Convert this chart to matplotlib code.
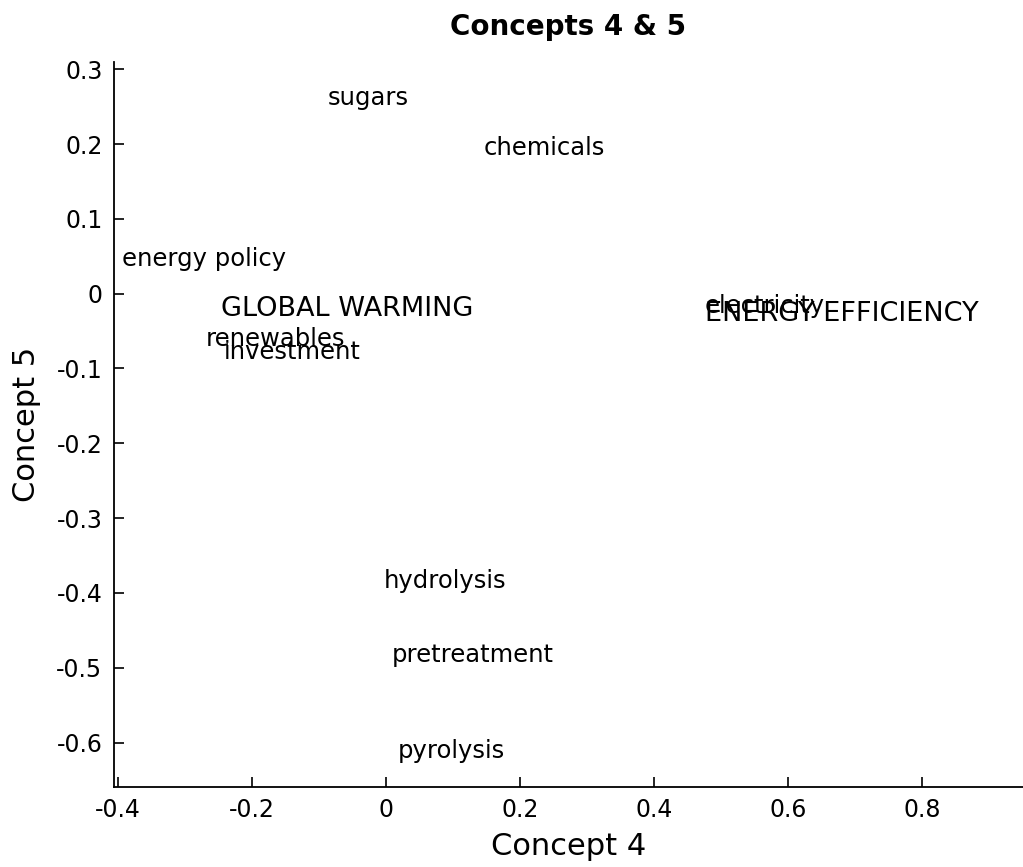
import matplotlib
matplotlib.use('Agg')
import matplotlib.pyplot as plt
from matplotlib.ticker import FuncFormatter

# term positions on concepts 4 and 5
terms = ['sugars', 'chemicals', 'energy policy', 'GLOBAL WARMING',
         'renewables', 'investment', 'electricity', 'ENERGY EFFICIENCY',
         'hydrolysis', 'pretreatment', 'pyrolysis']
concept4 = [-0.087, 0.146, -0.393, -0.245, -0.269, -0.242,
            0.476, 0.476, -0.003, 0.009, 0.018]
concept5 = [0.262, 0.195, 0.047, -0.021, -0.061, -0.078,
            -0.017, -0.027, -0.384, -0.483, -0.611]

xticks = [-0.4, -0.2, 0, 0.2, 0.4, 0.6, 0.8]
yticks = [-0.6, -0.5, -0.4, -0.3, -0.2, -0.1, 0, 0.1, 0.2, 0.3]

fig = plt.figure(figsize=(10.23, 8.67), dpi=100)
ax = fig.add_axes([0.111, 0.0926, 0.889, 0.8362])

for t, x, y in zip(terms, concept4, concept5):
    # upper case terms come out a bit larger in the original
    fs = 19.5 if t.isupper() else 17.5
    ax.text(x, y, t, ha='left', va='center', fontsize=fs)

ax.set_xlim(-0.406, 0.951)
ax.set_ylim(-0.659, 0.31)
ax.set_xticks(xticks)
ax.set_yticks(yticks)
fmt = FuncFormatter(lambda v, p: '%g' % round(v, 2))
ax.xaxis.set_major_formatter(fmt)
ax.yaxis.set_major_formatter(fmt)

ax.spines['top'].set_visible(False)
ax.spines['right'].set_visible(False)
for s in ['left', 'bottom']:
    ax.spines[s].set_linewidth(1.3)
ax.tick_params(direction='in', length=7.5, width=1.2, labelsize=17, pad=8)

ax.set_xlabel('Concept 4', fontsize=22, labelpad=7)
ax.set_ylabel('Concept 5', fontsize=22, labelpad=11)
ax.set_title('Concepts 4 & 5', fontsize=20, fontweight='bold', pad=19)

fig.savefig('out.png', dpi=100)
